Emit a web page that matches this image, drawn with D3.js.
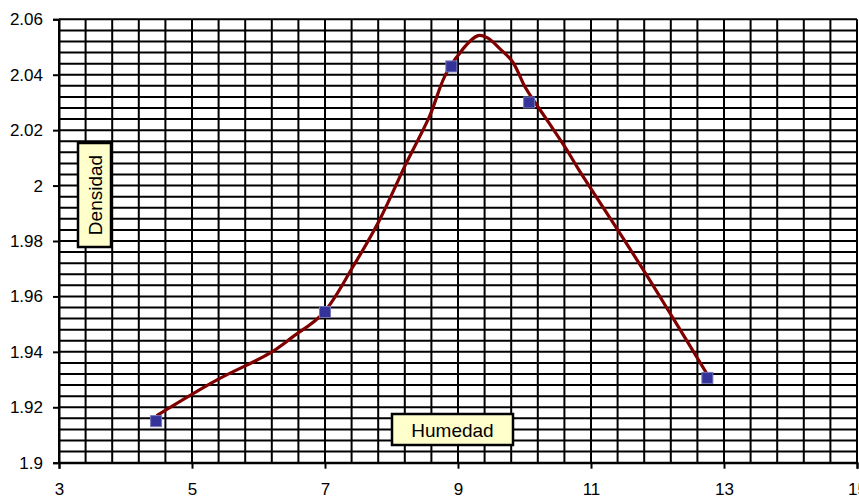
<!DOCTYPE html>
<html>
<head>
<meta charset="utf-8">
<script src="https://cdn.jsdelivr.net/npm/d3@7"></script>
<style>
  html, body { margin: 0; padding: 0; background: #fff; overflow: hidden; }
  svg { display: block; font-family: "Liberation Sans", Arial, sans-serif; }
</style>
</head>
<body>
<svg id="chart" width="859" height="499"></svg>
<script>
// Measured points (Humedad, Densidad)
const pointX = [4.46, 7.0, 8.9, 10.07, 12.75];
const pointY = [1.915, 1.9544, 2.043, 2.030, 1.9306];

// Fitted curve
const curveX = [4.47, 5.37, 6.17, 6.52, 6.97, 7.42, 7.82, 8.22, 8.57, 8.85, 9.3, 9.45, 9.62, 9.82, 10.02, 10.32, 10.62, 10.82, 11.37, 11.82, 12.22, 12.77];
const curveY = [1.917, 1.9298, 1.9395, 1.9455, 1.9539, 1.9707, 1.9876, 2.008, 2.0249, 2.0417, 2.0541, 2.0532, 2.0496, 2.0447, 2.0351, 2.0243, 2.0135, 2.0056, 1.9852, 1.9683, 1.9527, 1.931];

const xTicks = [3, 5, 7, 9, 11, 13, 15];
const yTicks = [1.9, 1.92, 1.94, 1.96, 1.98, 2, 2.02, 2.04, 2.06];
const xTitle = "Humedad";
const yTitle = "Densidad";

const svg = d3.select("#chart");
const mLeft = 59, mRight = 857, mTop = 19.3, mBottom = 462.7;

const x = d3.scaleLinear().domain([3, 15]).range([mLeft, mRight]);
const y = d3.scaleLinear().domain([1.9, 2.06]).range([mBottom, mTop]);

// Gridlines
const xGrid = d3.range(0, 31).map(i => 3 + i * 0.4);
const yGrid = d3.range(0, 41).map(i => 1.9 + i * 0.004);
const g = svg.append("g");
g.selectAll("line.v").data(xGrid).enter().append("line")
  .attr("x1", d => x(d)).attr("x2", d => x(d))
  .attr("y1", mTop).attr("y2", mBottom)
  .attr("stroke", "#000").attr("stroke-width", 2);
g.selectAll("line.h").data(yGrid).enter().append("line")
  .attr("y1", d => y(d)).attr("y2", d => y(d))
  .attr("x1", mLeft).attr("x2", mRight)
  .attr("stroke", "#000").attr("stroke-width", 2);

// Axes
const yAxis = d3.axisLeft(y).tickValues(yTicks).tickSize(6).tickPadding(10)
  .tickFormat(d => String(+d.toFixed(2)));
const xAxis = d3.axisBottom(x).tickValues(xTicks).tickSize(6).tickPadding(14)
  .tickFormat(d => d);

const ya = svg.append("g").attr("transform", `translate(${mLeft},0)`).call(yAxis);
const xa = svg.append("g").attr("transform", `translate(0,${mBottom})`).call(xAxis);
[ya, xa].forEach(a => {
  a.select(".domain").attr("stroke", "#000").attr("stroke-width", 2);
  a.selectAll(".tick line").attr("stroke", "#000").attr("stroke-width", 2);
  a.selectAll(".tick text").attr("fill", "#000")
    .style("font-size", "17px").style("font-family", "'Liberation Sans', Arial, sans-serif");
});

// Curve
const line = d3.line().x(d => x(d[0])).y(d => y(d[1])).curve(d3.curveCatmullRom.alpha(0.5));
svg.append("path")
  .datum(curveX.map((v, i) => [v, curveY[i]]))
  .attr("d", line)
  .attr("fill", "none").attr("stroke", "#800000").attr("stroke-width", 3.2)
  .attr("stroke-linejoin", "round");

// Markers
svg.selectAll("rect.pt").data(pointX.map((v, i) => [v, pointY[i]])).enter().append("rect")
  .attr("x", d => x(d[0]) - 5.5).attr("y", d => y(d[1]) - 5.5)
  .attr("width", 11).attr("height", 11)
  .attr("fill", "#333399").attr("stroke", "#7777bb").attr("stroke-width", 1);

// Title boxes
const hb = svg.append("g");
hb.append("rect").attr("x", 392).attr("y", 414).attr("width", 121).attr("height", 31)
  .attr("fill", "#FFFFCC").attr("stroke", "#000").attr("stroke-width", 2.5);
hb.append("text").attr("x", 452.5).attr("y", 430).attr("text-anchor", "middle")
  .attr("dominant-baseline", "central").style("font-size", "19px").text(xTitle);

const db = svg.append("g");
db.append("rect").attr("x", 78).attr("y", 143).attr("width", 33).attr("height", 104)
  .attr("fill", "#FFFFCC").attr("stroke", "#000").attr("stroke-width", 2.5);
db.append("text").attr("transform", "translate(95,195) rotate(-90)")
  .attr("text-anchor", "middle").attr("dominant-baseline", "central")
  .style("font-size", "19px").text(yTitle);
</script>
</body>
</html>
